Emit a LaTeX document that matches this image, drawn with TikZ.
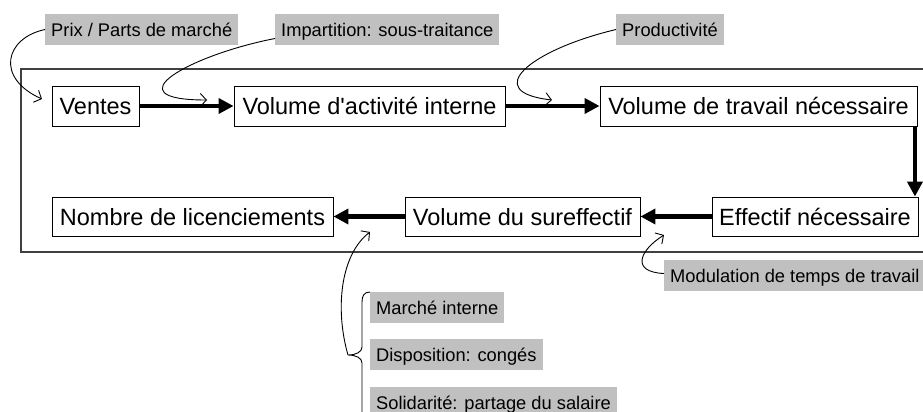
\documentclass[tikz,border=0pt]{standalone}
\usepackage{fontspec}
\setmainfont{Liberation Sans}
\usetikzlibrary{arrows.meta}
\definecolor{lblgray}{RGB}{192,192,192}
\font\aposfont="Liberation Sans" at 23.5pt
\begin{document}
\begin{tikzpicture}[x=1pt,y=-1pt,
  boxnode/.style={draw=black,line width=0.9pt,inner sep=0pt,minimum height=40pt,
    font=\fontsize{23.5}{28}\selectfont,text height=17.5pt,text depth=0pt},
  lbl/.style={fill=lblgray,anchor=west,inner xsep=6pt,inner ysep=0pt,minimum height=31pt,
    font=\fontsize{18.3}{22}\selectfont,text height=14.5pt,text depth=0pt},
  flow/.style={line width=4.5pt,-{Triangle[length=15pt,width=15pt]}},
  infl/.style={line width=0.9pt,-{Straight Barb[length=6pt,width=13pt]}}]
\useasboundingbox (0,0) rectangle (923,412);
% frame
\draw[black!75,line width=1.2pt] (21,69) rectangle (935,252);
% boxes
\node[boxnode,minimum width=87pt] (ventes) at (95.5,106) {Ventes};
\node[boxnode,minimum width=271pt] (activite) at (369.5,106) {Volume d{\aposfont'}activité interne};
\node[boxnode,minimum width=317pt] (travail) at (758.5,106) {Volume de travail nécessaire};
\node[boxnode,minimum width=206pt,minimum height=39pt] (effectif) at (815,216.5) {Effectif nécessaire};
\node[boxnode,minimum width=235pt,minimum height=39pt] (sureff) at (522.5,216.5) {Volume du sureffectif};
\node[boxnode,minimum width=281pt,minimum height=39pt] (nombre) at (192.5,216.5) {Nombre de licenciements};
% flow arrows
\draw[flow] (ventes.east) -- (activite.west);
\draw[flow] (activite.east) -- (travail.west);
\draw[flow] ([xshift=-2.5pt]travail.south east) -- ([xshift=-2.5pt]travail.south east |- effectif.north);
\draw[flow] (effectif.west) -- (sureff.east);
\draw[flow] (sureff.west) -- (nombre.east);
% labels
\node[lbl] (prix) at (45,29.5) {Prix / Parts de marché};
\node[lbl] (impart) at (275,29.5) {Impartition: sous-traitance};
\node[lbl] (prod) at (616,29.5) {Productivité};
\node[lbl] (modul) at (664,275.5) {Modulation de temps de travail};
\node[lbl] (marche) at (370,307.5) {Marché interne};
\node[lbl] (dispo) at (370,354.5) {Disposition: congés};
\node[lbl] (solid) at (370,402.5) {Solidarité: partage du salaire};
% free ends of influence arrows
\coordinate (e1) at (42,99);
\coordinate (e2) at (207,100);
\coordinate (e3) at (552,100);
\coordinate (e4) at (664,235);
\coordinate (e5) at (370,232);
\coordinate (bt) at (348,355);
% influence arrows
\draw[infl] (prix.west) .. controls (5,38) and (-5,78) .. (e1);
\draw[infl] ([yshift=-9pt]impart.west) .. controls (190,55) and (110,100) .. (e2);
\draw[infl] (prod.west) .. controls (530,50) and (480,92) .. (e3);
\draw[infl] ([yshift=2pt]modul.west) .. controls (630,272) and (640,250) .. (e4);
\draw[infl] (bt) .. controls (335,310) and (340,255) .. (e5);
% brace
\draw[line width=0.9pt] (370,292) .. controls (364,292) and (362,296) .. (362,302)
  -- (362,347) .. controls (362,352) and (356,355) .. (bt)
  .. controls (356,355) and (362,358) .. (362,363) -- (362,420);
\end{tikzpicture}
\end{document}
